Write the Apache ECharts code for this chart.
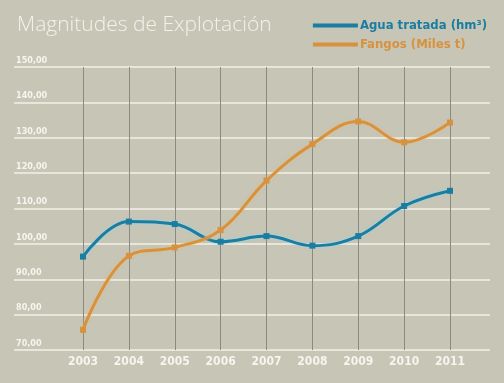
<!DOCTYPE html>
<html><head><meta charset="utf-8">
<script src="https://cdn.jsdelivr.net/npm/echarts@6/dist/echarts.min.js"></script>
<style>html,body{margin:0;padding:0;background:#c6c5b6}#c{width:504px;height:383px}</style>
</head><body><div id="c"></div>
<script>
const years = ['2003','2004','2005','2006','2007','2008','2009','2010','2011'];
const agua = [96.4, 106.3, 105.6, 100.6, 102.2, 99.5, 102.2, 110.7, 115.0];
const fangos = [75.7, 96.6, 99.0, 103.9, 117.9, 128.2, 134.6, 128.7, 134.3];
const yMin = 70, yMax = 150, yStep = 10;
const titleText = 'Magnitudes de Explotación';
const names = ['Agua tratada (hm³)', 'Fangos (Miles t)'];
const blue = '#1b7da0', orange = '#d8923d';

const chart = echarts.init(document.getElementById('c'), null, {renderer:'canvas'});
chart.setOption({
  backgroundColor: '#c6c5b6',
  animation: false,
  title: {text: titleText, left: 12, top: 10,
    textStyle: {color: '#f3f2ea', fontFamily: 'Open Sans', fontWeight: 300, fontSize: 21}},
  legend: {
    orient: 'vertical', right: 12, top: 14, itemGap: 6,
    itemWidth: 45, itemHeight: 4, icon: 'rect',
    textStyle: {fontFamily: 'DejaVu Sans Condensed', fontWeight: 'bold', fontSize: 13, padding: [0,0,0,-3]},
    data: [
      {name: names[0], textStyle: {color: blue}},
      {name: names[1], textStyle: {color: orange}}
    ]
  },
  grid: [
    {left: 14, right: 14, top: 67, bottom: 33},
    {left: 83, right: 54, top: 67, bottom: 33}
  ],
  xAxis: [
    {gridIndex: 0, type: 'value', show: false, min: 0, max: 1},
    {gridIndex: 1, type: 'category', data: years, boundaryGap: false,
     axisLine: {show: false}, axisTick: {show: false},
     axisLabel: {color: '#f6f5ee', fontFamily: 'DejaVu Sans Condensed', fontWeight: 'bold', fontSize: 12, margin: 6},
     splitLine: {show: true, lineStyle: {color: '#8b8a82', width: 1}}}
  ],
  yAxis: [
    {gridIndex: 0, type: 'value', min: yMin, max: yMax, interval: yStep,
     axisLine: {show: false}, axisTick: {show: false},
     axisLabel: {inside: true, margin: 2, verticalAlign: 'bottom', padding: [0,0,2,0],
       color: '#f6f5ee', fontFamily: 'DejaVu Sans Condensed', fontWeight: 'bold', fontSize: 9,
       formatter: v => v.toFixed(2).replace('.', ',')},
     splitLine: {show: true, lineStyle: {color: '#f3f1e6', width: 1.5}}},
    {gridIndex: 1, type: 'value', min: yMin, max: yMax, interval: yStep, show: false, splitLine: {show: false}}
  ],
  series: [
    {name: names[0], type: 'line', xAxisIndex: 1, yAxisIndex: 1, data: agua, smooth: 0.4,
     symbol: 'rect', symbolSize: 6, itemStyle: {color: blue},
     lineStyle: {color: blue, width: 3, shadowColor: 'rgba(150,220,240,0.9)', shadowBlur: 3}},
    {name: names[1], type: 'line', xAxisIndex: 1, yAxisIndex: 1, data: fangos, smooth: 0.4,
     symbol: 'rect', symbolSize: 6, itemStyle: {color: orange},
     lineStyle: {color: orange, width: 3, shadowColor: 'rgba(240,190,120,0.7)', shadowBlur: 3}}
  ]
});
</script></body></html>
